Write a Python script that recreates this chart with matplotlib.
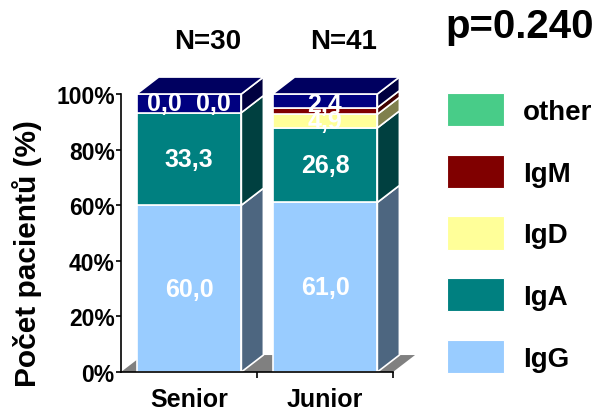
import matplotlib
matplotlib.use("Agg")
import matplotlib.pyplot as plt
import numpy as np
from matplotlib.patches import Polygon, Patch
from matplotlib.colors import to_rgb

plt.rcParams["font.family"] = ["Liberation Sans", "DejaVu Sans"]
plt.rcParams["font.weight"] = "bold"
plt.rcParams["axes.labelweight"] = "bold"

# isotype share per group (%), stacked bottom -> top
groups = ["Senior", "Junior"]
counts = ["N=30", "N=41"]
segments = ["IgG", "IgA", "IgD", "IgM", "other", "zbytek"]
IgG = [60.0, 61.0]
IgA = [33.3, 26.8]
IgD = [0.0, 4.9]
IgM = [0.0, 2.4]
other = [0.0, 0.0]
zbytek = [6.7, 4.9]
p_text = "p=0.240"

values = {"IgG": IgG, "IgA": IgA, "IgD": IgD, "IgM": IgM, "other": other, "zbytek": zbytek}
colors = {"IgG": "#99ccff", "IgA": "#008080", "IgD": "#ffff99",
          "IgM": "#800000", "other": "#48cc88", "zbytek": "#000080"}
labelled = ["IgG", "IgA", "IgD", "IgM"]
legend_order = ["other", "IgM", "IgD", "IgA", "IgG"]

W = 0.77          # bar width (category units)
DX, DY = 0.162, 6.1   # 3d depth offset in data units
EDGE = dict(edgecolor="white", linewidth=1.2, clip_on=False)


def shade(c, f):
    return tuple(np.array(to_rgb(c)) * f)


fig = plt.figure(figsize=(6.01, 4.14), dpi=100)
ax = fig.add_axes([121 / 601, 41 / 414, 272 / 601, 278 / 414])
ax.set_xlim(-0.5, 1.5)
ax.set_ylim(0, 100)

# floor under the bars
xlo, xhi = ax.get_xlim()
ax.add_patch(Polygon([(xlo, 0), (xhi, 0), (xhi + DX, DY), (xlo + DX, DY)],
                     closed=True, facecolor="#808080", edgecolor="none",
                     zorder=1, clip_on=False))

for i, g in enumerate(groups):
    x0, x1 = i - W / 2, i + W / 2
    b = 0.0
    zero_lbls = []
    for s in segments:
        h = values[s][i]
        c = colors[s]
        if h > 0:
            ax.add_patch(Polygon([(x0, b), (x1, b), (x1, b + h), (x0, b + h)],
                                 closed=True, facecolor=c, zorder=2, **EDGE))
            ax.add_patch(Polygon([(x1, b), (x1 + DX, b + DY), (x1 + DX, b + h + DY), (x1, b + h)],
                                 closed=True, facecolor=shade(c, 0.5), zorder=2, **EDGE))
        if s in labelled:
            txt = f"{h:.1f}".replace(".", ",")
            y = b + h / 2
            if h == 0:
                zero_lbls.append((txt, b))
            else:
                if h < 3:
                    y += 2.5
                ax.text(i, y, txt, color="white", fontsize=18, ha="center",
                        va="center", zorder=5)
        b += h
    top = b
    ax.add_patch(Polygon([(x0, top), (x1, top), (x1 + DX, top + DY), (x0 + DX, top + DY)],
                         closed=True, facecolor=shade(colors["zbytek"], 0.75), zorder=2, **EDGE))
    # zero-height segments: labels side by side
    for k, (txt, yb) in enumerate(zero_lbls):
        off = (k - (len(zero_lbls) - 1) / 2) * 0.36
        ax.text(i + off, yb + 3.4, txt, color="white", fontsize=18, ha="center",
                va="center", zorder=5)
    ax.text(i + 0.14, 119, counts[i], fontsize=20, ha="center", va="center",
            clip_on=False)

for sp in ["top", "right"]:
    ax.spines[sp].set_visible(False)
for sp in ["left", "bottom"]:
    ax.spines[sp].set_linewidth(1.2)
    ax.spines[sp].set_zorder(6)

ax.set_yticks(np.arange(0, 101, 20))
ax.set_yticklabels([f"{t}%" for t in range(0, 101, 20)], fontsize=16.5)
ax.tick_params(axis="y", length=3.5, width=1.2, pad=1)
ax.set_xticks([0, 1])
ax.set_xticklabels(groups, fontsize=18)
ax.tick_params(axis="x", which="major", length=0, pad=11)
ax.set_xticks([0.5, 1.5], minor=True)
ax.tick_params(axis="x", which="minor", length=4, width=1.2)
ax.set_ylabel("Počet pacientů (%)", fontsize=21.5)
ax.yaxis.set_label_coords(-0.29, 0.43)

fig.text(445 / 601, 1 - 27 / 414, p_text, fontsize=29, ha="left", va="center")

handles = [Patch(facecolor=colors[s], edgecolor="white", linewidth=0.8) for s in legend_order]
fig.legend(handles, legend_order, loc="upper left",
           bbox_to_anchor=(447 / 601, 1 - 94 / 414), frameon=False, fontsize=20,
           handlelength=2.05, handleheight=1.47, labelspacing=1.02,
           handletextpad=0.68, borderpad=0, borderaxespad=0)

fig.savefig("out.png", dpi=100)
